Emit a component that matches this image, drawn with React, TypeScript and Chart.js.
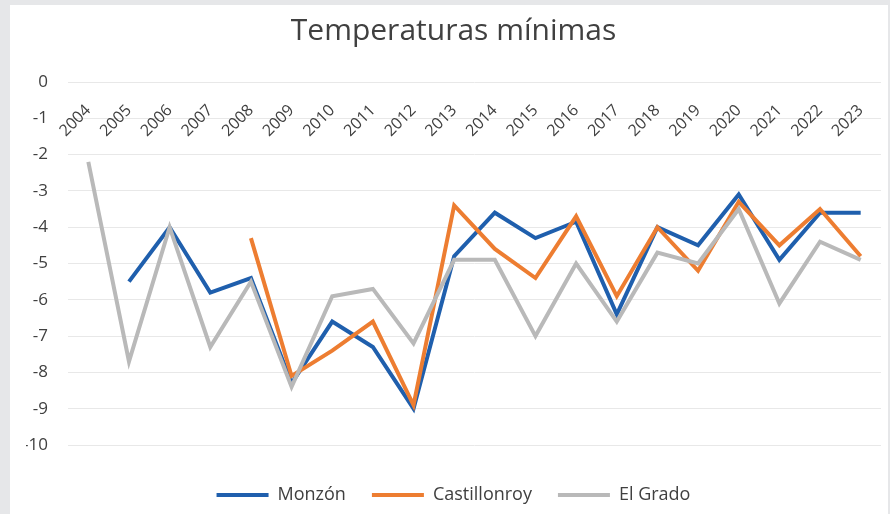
import React, { useEffect, useRef } from "react";
import { Chart, registerables } from "chart.js";

Chart.register(...registerables);

const years = ["2004","2005","2006","2007","2008","2009","2010","2011","2012","2013","2014","2015","2016","2017","2018","2019","2020","2021","2022","2023"];
const monzon = [null,-5.5,-4.0,-5.8,-5.4,-8.3,-6.6,-7.3,-9.0,-4.8,-3.6,-4.3,-3.85,-6.4,-4.0,-4.5,-3.1,-4.9,-3.6,-3.6];
const castillonroy = [null,null,null,null,-4.3,-8.1,-7.4,-6.6,-8.9,-3.4,-4.6,-5.4,-3.7,-5.9,-4.0,-5.2,-3.3,-4.5,-3.5,-4.8];
const elGrado = [-2.2,-7.7,-4.0,-7.3,-5.5,-8.4,-5.9,-5.7,-7.2,-4.9,-4.9,-7.0,-5.0,-6.6,-4.7,-5.0,-3.5,-6.1,-4.4,-4.9];
const seriesNames = ["Monzón", "Castillonroy", "El Grado"];
const seriesColors = ["#1f5fad", "#ed7d31", "#b9b9b9"];
const titleText = "Temperaturas mínimas";

const FONT = "'Open Sans', Lato, sans-serif";
const TEXT = "#404040";

export default function App() {
  const ref = useRef<HTMLCanvasElement | null>(null);
  useEffect(() => {
    if (!ref.current) return;
    const values = [monzon, castillonroy, elGrado];
    const chart = new Chart(ref.current, {
      type: "line",
      data: {
        labels: years,
        datasets: values.map((v, i) => ({
          label: seriesNames[i],
          data: v,
          borderColor: seriesColors[i],
          backgroundColor: seriesColors[i],
          borderWidth: 4,
          pointRadius: 0,
          tension: 0,
          spanGaps: false,
          order: 2 - i,
        })),
      },
      options: {
        animation: false,
        responsive: false,
        maintainAspectRatio: false,
        layout: { padding: { left: 16, right: 7, top: 0, bottom: 0 } },
        scales: {
          x: {
            type: "category",
            position: { y: 0 } as any,
            offset: true,
            grid: { display: false },
            border: { display: false },
            ticks: {
              minRotation: 45,
              maxRotation: 45,
              padding: 11,
              color: TEXT,
              font: { family: FONT, size: 16 },
              autoSkip: false,
            },
          },
          xb: {
            type: "category",
            position: "bottom",
            grid: { display: false },
            border: { display: false },
            ticks: { display: false },
            afterFit: (s: any) => { s.height = 15; },
          },
          y: {
            min: -10,
            max: 0,
            grid: { color: "#e8e8e8", lineWidth: 1, drawTicks: false },
            border: { display: false },
            ticks: {
              stepSize: 1,
              padding: 20,
              color: TEXT,
              font: { family: FONT, size: 17 },
              callback: (v: any) => String(v),
            },
            afterFit: (s: any) => { s.width = 42; },
          },
        },
        plugins: {
          title: {
            display: true,
            text: titleText,
            color: TEXT,
            font: { family: FONT, size: 30, weight: "normal" },
            padding: { top: 8, bottom: 33 },
          },
          legend: {
            display: true,
            position: "bottom",
            labels: {
              boxWidth: 52,
              boxHeight: 4,
              padding: 26,
              color: TEXT,
              font: { family: FONT, size: 18 },
              sort: (a: any, b: any) => a.datasetIndex - b.datasetIndex,
              generateLabels: (c: any) => {
                const items = Chart.defaults.plugins.legend.labels.generateLabels(c);
                return items.map((it: any) => ({ ...it, fillStyle: it.strokeStyle, lineWidth: 0 }));
              },
            },
          },
          tooltip: { enabled: false },
        },
      },
    });
    return () => chart.destroy();
  }, []);

  return (
    <div style={{ position: "absolute", left: 0, top: 0, width: 890, height: 514, background: "#e6e7e9", overflow: "hidden" }}>
      <div style={{ position: "absolute", left: 10, top: 5, width: 878, height: 509, background: "#ffffff" }}>
        <canvas ref={ref} width={878} height={509} style={{ display: "block", width: 878, height: 509 }} />
      </div>
    </div>
  );
}
